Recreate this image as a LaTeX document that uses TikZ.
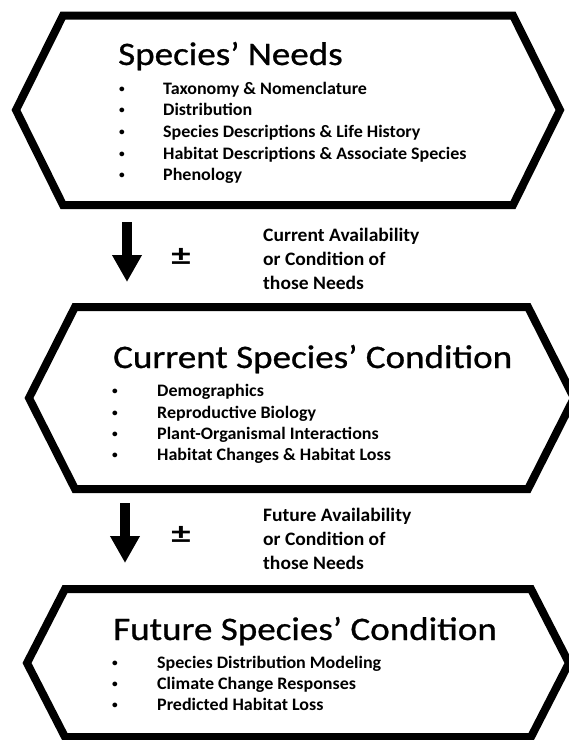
\documentclass[tikz,border=0pt]{standalone}
\usepackage{fontspec}
\usepackage{graphicx}
\setmainfont{Carlito}
\newfontfamily\titlefont[FakeStretch=1.13,FakeBold=0.8]{Carlito}
\newfontfamily\itemfont[FakeStretch=1.03]{Carlito}
\usetikzlibrary{arrows.meta}
\begin{document}
\begin{tikzpicture}[x=1pt,y=-1pt,
  hexa/.style={draw=black,line width=8pt,line join=miter},
  titletext/.style={anchor=base west,inner sep=0pt,font=\titlefont\fontsize{32.8}{36}\selectfont},
  itemtext/.style={anchor=base west,inner sep=0pt,font=\itemfont\bfseries\fontsize{17.5}{20}\selectfont},
  bul/.style={anchor=base,inner sep=0pt,font=\itemfont\bfseries\fontsize{11}{12}\selectfont},
  sidetext/.style={anchor=base west,inner sep=0pt,font=\itemfont\bfseries\fontsize{19}{24}\selectfont},
  pmtext/.style={anchor=center,inner sep=0pt,font=\itemfont\bfseries\fontsize{29}{29}\selectfont},
  flow/.style={line width=10pt,-{Triangle[length=27pt,width=28pt]}}
]
\useasboundingbox (0,0) rectangle (569,740);
\clip (0,0) rectangle (569,740);
\fill[white] (0,0) rectangle (569,740);

% hexagon 1
\draw[hexa] (63,15.5) -- (513,15.5) -- (560,110) -- (513,205) -- (63,205) -- (16,110) -- cycle;
\node[titletext] (t1) at (118,65) {Species’ Needs};
\foreach \y/\txt [count=\i] in {94/Taxonomy \& Nomenclature,115.7/Distribution,137.4/Species Descriptions \& Life History,159.1/Habitat Descriptions \& Associate Species,180.8/Phenology}{
  \node[bul] (b1\i) at (122,\y-2) {•};
  \node[itemtext] (i1\i) at (163,\y) {\txt};
}

% arrow 1
\coordinate (a1s) at (127,222);
\coordinate (a1e) at (127,282);
\draw[flow] (a1s) -- (a1e);
\node[pmtext] (pm1) at (181,257) {\scalebox{1.3}[1]{±}};
\node[sidetext] (s11) at (263,241) {Current Availability};
\node[sidetext] (s12) at (263,265) {or Condition of};
\node[sidetext] (s13) at (263,289) {those Needs};

% hexagon 2
\draw[hexa] (75,307) -- (528,307) -- (574,398) -- (528,489) -- (75,489) -- (29,398) -- cycle;
\node[titletext] (t2) at (113,368) {Current Species’ Condition};
\foreach \y/\txt [count=\i] in {396.7/Demographics,418/Reproductive Biology,439.3/Plant-Organismal Interactions,460.7/Habitat Changes \& Habitat Loss}{
  \node[bul] (b2\i) at (115,\y-2) {•};
  \node[itemtext] (i2\i) at (157,\y) {\txt};
}

% arrow 2
\coordinate (a2s) at (125,503);
\coordinate (a2e) at (125,563);
\draw[flow] (a2s) -- (a2e);
\node[pmtext] (pm2) at (181,535) {\scalebox{1.3}[1]{±}};
\node[sidetext] (s21) at (263,521) {Future Availability};
\node[sidetext] (s22) at (263,545) {or Condition of};
\node[sidetext] (s23) at (263,569) {those Needs};

% hexagon 3
\draw[hexa] (65,589) -- (531,589) -- (569,663) -- (531,737) -- (65,737) -- (27,663) -- cycle;
\node[titletext] (t3) at (113,640) {Future Species’ Condition};
\foreach \y/\txt [count=\i] in {668/Species Distribution Modeling,689/Climate Change Responses,710/Predicted Habitat Loss}{
  \node[bul] (b3\i) at (115,\y-2) {•};
  \node[itemtext] (i3\i) at (157,\y) {\txt};
}
\end{tikzpicture}
\end{document}
